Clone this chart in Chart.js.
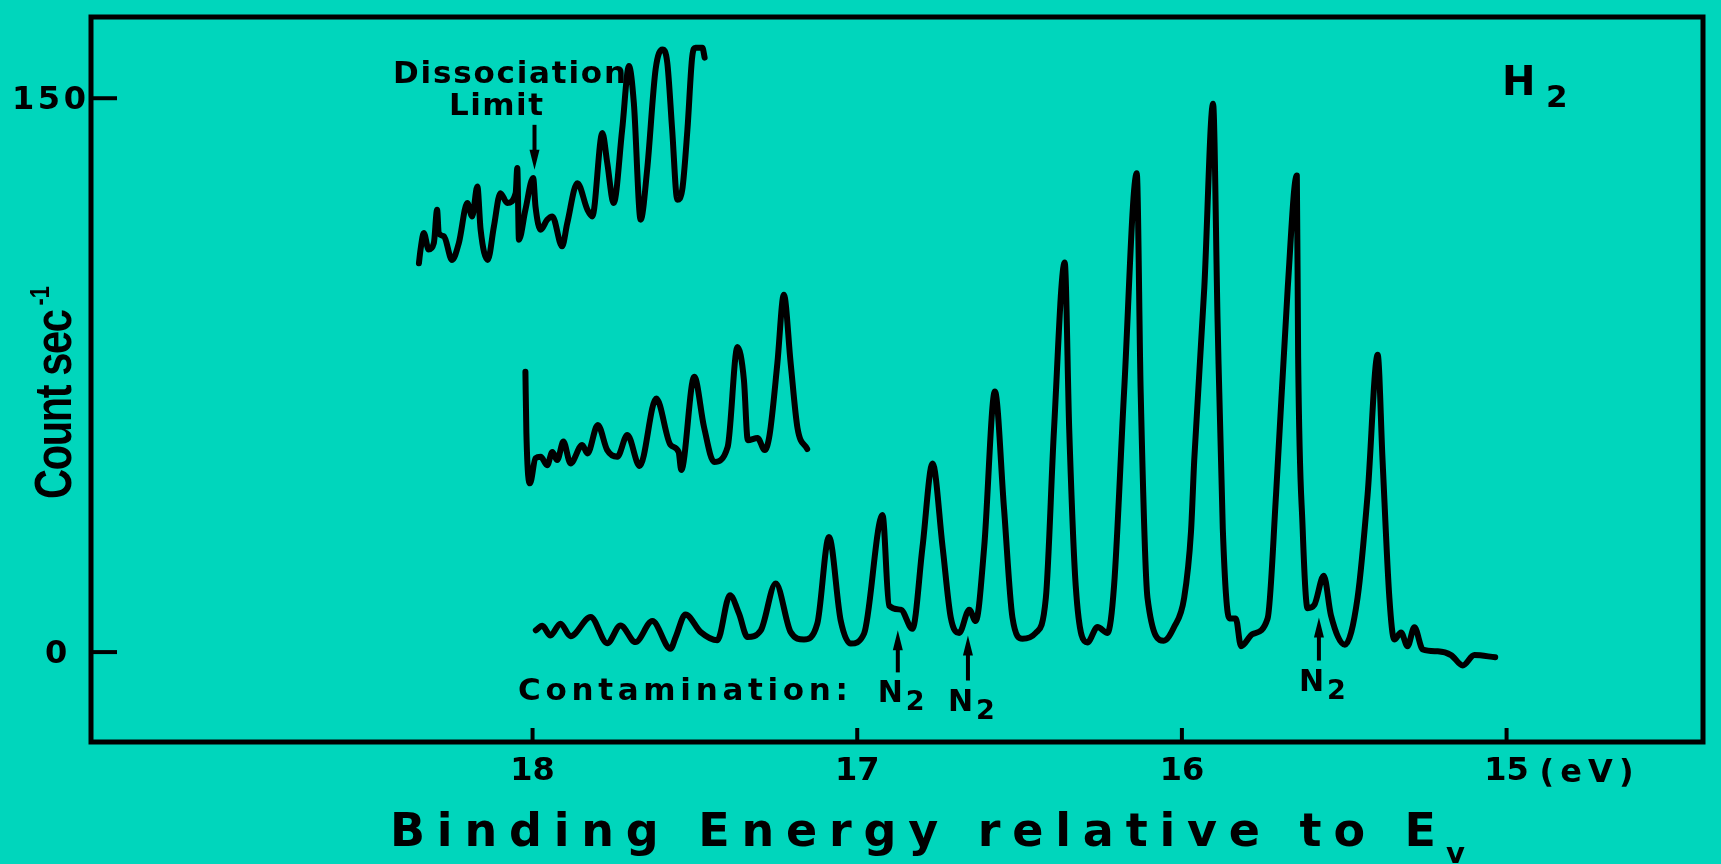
<!DOCTYPE html>
<html>
<head>
<meta charset="utf-8">
<script src="https://cdn.jsdelivr.net/npm/chart.js@4.4.1/dist/chart.umd.min.js"></script>
<style>
    html, body { margin: 0; padding: 0; background: #00d6bc; }
    #wrap { width: 1721px; height: 864px; }
</style>
</head>
<body>
<div id="wrap"><canvas id="spectrum" width="1721" height="864"></canvas></div>
<script>
// axis ticks (binding energy in eV, counts per second)
const xTicks = [18, 17, 16, 15]
const yTicks = [0, 150]

// main H2 spectrum
const mainEnergy = [17.99, 17.97, 17.945, 17.914, 17.883, 17.821, 17.770, 17.729, 17.683, 17.631,
    17.575, 17.559, 17.529, 17.482, 17.431, 17.392, 17.364, 17.338, 17.297, 17.251,
    17.205, 17.164, 17.123, 17.087, 17.051, 17.020, 16.979, 16.922, 16.902, 16.866,
    16.830, 16.799, 16.768, 16.737, 16.712, 16.686, 16.655, 16.635, 16.609, 16.576,
    16.548, 16.522, 16.491, 16.450, 16.419, 16.394, 16.361, 16.347, 16.327, 16.291,
    16.260, 16.229, 16.209, 16.178, 16.139, 16.127, 16.106, 16.056, 16.024, 15.993,
    15.972, 15.962, 15.931, 15.904, 15.890, 15.874, 15.854, 15.834, 15.818, 15.782,
    15.736, 15.710, 15.674, 15.646, 15.642, 15.628, 15.613, 15.592, 15.563, 15.541,
    15.498, 15.459, 15.428, 15.397, 15.382, 15.361, 15.346, 15.325, 15.305, 15.284,
    15.258, 15.212, 15.171, 15.135, 15.099, 15.035]
const mainCounts = [5.9, 7.1, 4.5, 7.7, 4.3, 9.5, 2.4, 7.2, 2.7, 8.4,
    0.9, 4.1, 10.2, 5.4, 3.2, 15.4, 10.4, 4.1, 5.9, 18.6,
    5.4, 3.4, 7.7, 31.2, 8.6, 2.3, 5.0, 37.1, 12.6, 11.5,
    6.3, 28.4, 51.1, 28.4, 9.4, 5.2, 11.5, 8.4, 28.4, 70.6,
    39.0, 9.4, 3.6, 5.2, 14.7, 60.1, 105.5, 60.1, 17.9, 2.6,
    6.8, 5.2, 17.9, 70.6, 129.7, 70.6, 14.7, 3.1, 6.8, 14.7,
    32.6, 52.0, 98.7, 148.5, 89.4, 33.3, 9.1, 9.1, 1.6, 4.9,
    9.1, 42.7, 98.7, 129.1, 80.0, 33.3, 11.9, 12.8, 20.7, 10.0,
    2.0, 14.7, 42.7, 80.5, 52.0, 14.7, 3.4, 5.3, 1.6, 6.7,
    0.7, 0.2, -0.8, -3.6, -0.8, -1.4]

// middle trace (expanded, offset)
const midEnergy = [18.022, 18.019, 18.008, 17.991, 17.975, 17.955, 17.939, 17.924, 17.905, 17.883,
    17.847, 17.831, 17.799, 17.770, 17.739, 17.708, 17.670, 17.619, 17.575, 17.550,
    17.542, 17.502, 17.472, 17.441, 17.399, 17.369, 17.349, 17.337, 17.307, 17.285,
    17.270, 17.246, 17.226, 17.205, 17.184, 17.154]
const midCounts = [75.9, 59.3, 45.7, 52.5, 52.9, 50.6, 54.2, 52.0, 57.0, 51.1,
    56.1, 53.8, 61.5, 54.7, 52.9, 58.8, 50.4, 68.7, 56.1, 54.2,
    49.3, 74.6, 61.0, 51.5, 55.6, 82.6, 73.7, 57.4, 58.0, 54.7,
    58.8, 78.2, 96.8, 78.2, 60.7, 55.0]

// top trace (near dissociation limit)
const topEnergy = [18.350, 18.345, 18.335, 18.320, 18.304, 18.294, 18.289, 18.273, 18.248, 18.227,
    18.201, 18.186, 18.170, 18.160, 18.138, 18.119, 18.099, 18.078, 18.052, 18.047,
    18.042, 18.022, 17.998, 17.991, 17.975, 17.955, 17.939, 17.909, 17.893, 17.862,
    17.831, 17.816, 17.785, 17.770, 17.750, 17.724, 17.703, 17.688, 17.667, 17.647,
    17.621, 17.600, 17.585, 17.570, 17.554, 17.539, 17.523, 17.508, 17.498, 17.477,
    17.470]
const topCounts = [105.3, 109.0, 113.5, 109.0, 110.8, 119.8, 113.5, 112.6, 106.2, 110.8,
    121.6, 118.0, 126.1, 114.4, 106.2, 115.3, 124.3, 121.6, 124.3, 131.1,
    111.7, 119.8, 128.4, 120.7, 114.4, 117.1, 118.0, 109.9, 116.2, 127.0,
    119.8, 118.0, 140.6, 132.5, 121.6, 141.5, 158.7, 148.7, 117.1, 130.7,
    157.8, 163.2, 159.6, 141.5, 122.5, 125.2, 141.5, 161.4, 163.7, 163.7,
    161.0]

// annotations
const limitEnergy = 17.994
const limitArrow = [142.8, 130.6]
const n2Energy = [16.875, 16.659, 15.578]
const n2ArrowTop = [5.9, 4.5, 9.4]
const n2ArrowBottom = [-5.5, -7.7, -2.3]

const ink = '#000'
const tickFont = 'bold 32px "DejaVu Sans"'
const labelFont = 'bold 31px "DejaVu Sans"'

const spaced = (ctx, text, left, base, font, width) => {
    ctx.font = font
    ctx.letterSpacing = '0px'
    const w = ctx.measureText(text).width
    const gap = text.length > 1 ? (width - w) / (text.length - 1) : 0
    ctx.letterSpacing = gap + 'px'
    ctx.textAlign = 'left'
    ctx.textBaseline = 'alphabetic'
    ctx.fillText(text, left, base)
    ctx.letterSpacing = '0px'
}

const arrow = (ctx, px, fromY, toY) => {
    const dir = toY > fromY ? 1 : -1
    ctx.beginPath()
    ctx.moveTo(px, fromY)
    ctx.lineTo(px, toY - dir * 10)
    ctx.stroke()
    ctx.beginPath()
    ctx.moveTo(px, toY)
    ctx.lineTo(px - 5, toY - dir * 20)
    ctx.lineTo(px + 5, toY - dir * 20)
    ctx.closePath()
    ctx.fill()
}

const decor = {
    id: 'decor',
    afterDraw(chart) {
        const { ctx, chartArea: a, scales: { x, y } } = chart
        ctx.save()
        ctx.strokeStyle = ink
        ctx.fillStyle = ink
        ctx.lineWidth = 5
        ctx.lineCap = 'square'
        ctx.strokeRect(a.left, a.top, a.right - a.left, a.bottom - a.top)

        // inward tick marks
        ctx.lineCap = 'butt'
        ctx.lineWidth = 4
        xTicks.forEach(v => {
            const px = x.getPixelForValue(v)
            ctx.beginPath(); ctx.moveTo(px, a.bottom); ctx.lineTo(px, a.bottom - 14); ctx.stroke()
        })
        yTicks.forEach(v => {
            const py = y.getPixelForValue(v)
            ctx.beginPath(); ctx.moveTo(a.left, py); ctx.lineTo(a.left + 26, py); ctx.stroke()
        })

        // tick labels
        ctx.font = tickFont
        xTicks.forEach(v => {
            const px = x.getPixelForValue(v)
            const t = String(v)
            const w = ctx.measureText(t).width
            spaced(ctx, t, px - w / 2, a.bottom + 38, tickFont, w)
            if (v === 15) spaced(ctx, '(eV)', px + 33, a.bottom + 40, tickFont, 94)
        })
        yTicks.forEach(v => {
            const py = y.getPixelForValue(v)
            if (v === 150) spaced(ctx, '150', a.left - 79, py + 11, tickFont, 74)
            else spaced(ctx, String(v), a.left - 46, py + 11, tickFont, 22)
        })

        // axis titles
        spaced(ctx, 'Binding Energy relative to E', 390, 846, 'bold 46px "DejaVu Sans"', 1046)
        spaced(ctx, 'v', 1446, 863, 'bold 29px "DejaVu Sans"', 20)
        ctx.save()
        ctx.translate(71, 499)
        ctx.rotate(-Math.PI / 2)
        ctx.scale(0.8, 1)
        spaced(ctx, 'Count sec', 0, 0, 'bold 52px "Liberation Sans"', 190 / 0.8)
        spaced(ctx, '-1', 242, -22, 'bold 27px "Liberation Sans"', 24)
        ctx.restore()

        // H2 label
        spaced(ctx, 'H', 1502, 95, 'bold 40px "DejaVu Sans"', 33)
        spaced(ctx, '2', 1546, 107, 'bold 31px "DejaVu Sans"', 22)

        // dissociation limit
        ctx.lineWidth = 4
        const lx = x.getPixelForValue(limitEnergy)
        arrow(ctx, lx, y.getPixelForValue(limitArrow[0]), y.getPixelForValue(limitArrow[1]))
        spaced(ctx, 'Dissociation', 393, 83, labelFont, 233)
        spaced(ctx, 'Limit', 449, 115, labelFont, 94)

        // contamination markers
        spaced(ctx, 'Contamination:', 518, 700, labelFont, 330)
        n2Energy.forEach((e, i) => {
            const px = x.getPixelForValue(e)
            const bottom = y.getPixelForValue(n2ArrowBottom[i])
            arrow(ctx, px, bottom, y.getPixelForValue(n2ArrowTop[i]))
            spaced(ctx, 'N', px - 20, bottom + 30, 'bold 30px "DejaVu Sans"', 25)
            spaced(ctx, '2', px + 8, bottom + 38, 'bold 27px "DejaVu Sans"', 18)
        })
        ctx.restore()
    }
}

const trace = (energy, counts) => ({
    data: energy.map((e, i) => ({ x: e, y: counts[i] })),
    borderColor: ink,
    borderWidth: 6,
    borderJoinStyle: 'round',
    borderCapStyle: 'round',
    pointRadius: 0,
    fill: false,
    cubicInterpolationMode: 'monotone'
})

const spectrumCtx = document.getElementById('spectrum').getContext('2d')
new Chart(spectrumCtx, {
    type: 'line',
    data: {
        datasets: [
            trace(mainEnergy, mainCounts),
            trace(midEnergy, midCounts),
            trace(topEnergy, topCounts)
        ]
    },
    options: {
        responsive: false,
        animation: false,
        devicePixelRatio: 1,
        layout: { padding: { left: 91, right: 18, top: 17, bottom: 122 } },
        plugins: {
            legend: { display: false },
            tooltip: { enabled: false }
        },
        scales: {
            x: { type: 'linear', reverse: true, min: 14.395, max: 19.36, display: false },
            y: { type: 'linear', min: -24.35, max: 172, display: false }
        }
    },
    plugins: [decor]
})
</script>
</body>
</html>
